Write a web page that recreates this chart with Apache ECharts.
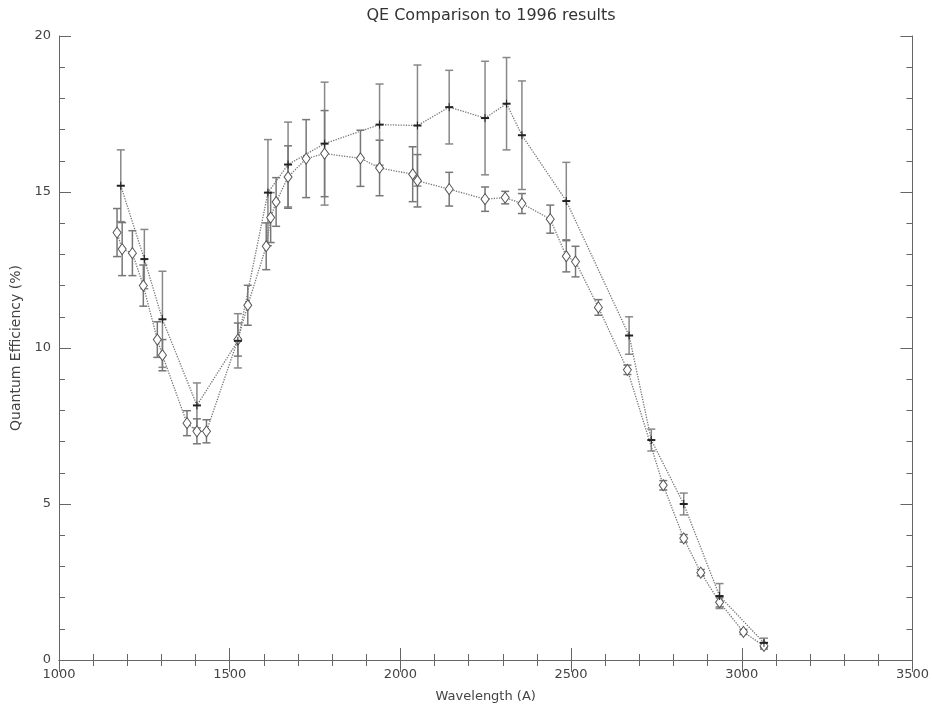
<!DOCTYPE html>
<html><head><meta charset="utf-8">
<script src="https://cdn.jsdelivr.net/npm/echarts@6/dist/echarts.min.js"></script>
<style>html,body{margin:0;padding:0;background:#fff}#c{width:932px;height:708px}</style>
</head><body><div id="c"></div>
<script>
// Diamond series (measured QE)
const diaX   = [1170,1185,1215,1247,1288,1303,1375,1404,1432,1524,1553,1607,1620,1636,1671,1724,1778,1883,1939,2036,2050,2143,2248,2307,2356,2439,2486,2513,2580,2665,2770,2830,2880,2935,3005,3065];
const diaY   = [13.70,13.17,13.04,12.00,10.27,9.77,7.59,7.33,7.33,10.27,11.37,13.26,14.18,14.68,15.48,16.07,16.23,16.08,15.77,15.57,15.36,15.09,14.77,14.82,14.63,14.13,12.94,12.77,11.30,9.30,5.60,3.90,2.80,1.85,0.90,0.45];
const diaErr = [0.77,0.85,0.72,0.66,0.57,0.50,0.40,0.40,0.37,0.53,0.64,0.75,0.80,0.78,1.00,1.25,1.38,0.90,0.89,0.88,0.84,0.54,0.39,0.20,0.32,0.45,0.50,0.49,0.25,0.15,0.15,0.12,0.10,0.15,0.08,0.10];
// Plus series (1996 results)
const plusX   = [1181,1250,1303,1404,1524,1612,1671,1778,1939,2050,2143,2248,2311,2356,2486,2670,2735,2830,2935,3065];
const plusY   = [15.20,12.85,10.92,8.16,10.23,14.98,15.88,16.55,17.16,17.13,17.72,17.37,17.83,16.82,14.71,10.40,7.05,5.00,2.05,0.55];
const plusErr = [1.15,0.95,1.54,0.72,0.87,1.70,1.36,1.97,1.30,1.94,1.18,1.82,1.48,1.74,1.24,0.60,0.35,0.35,0.40,0.15];

const titleText = 'QE Comparison to 1996 results';
const xName = 'Wavelength (A)';
const yName = 'Quantum Efficiency (%)';

function zip3(a,b,c){ return a.map((v,i)=>[v,b[i],c[i]]); }
const diaData = zip3(diaX, diaY, diaErr);
const plusData = zip3(plusX, plusY, plusErr);

function errRender(cap, color, w){
  return function(params, api){
    const x=api.value(0), y=api.value(1), e=api.value(2);
    const t=api.coord([x,y+e]), b=api.coord([x,y-e]);
    const st={stroke:color, lineWidth:w};
    return {type:'group', children:[
      {type:'line', shape:{x1:t[0],y1:t[1],x2:b[0],y2:b[1]}, style:st},
      {type:'line', shape:{x1:t[0]-cap,y1:t[1],x2:t[0]+cap,y2:t[1]}, style:st},
      {type:'line', shape:{x1:b[0]-cap,y1:b[1],x2:b[0]+cap,y2:b[1]}, style:st}
    ]};
  };
}
function plusRender(params, api){
  const p=api.coord([api.value(0), api.value(1)]);
  return {type:'group', children:[
    {type:'line', shape:{x1:p[0]-4,y1:p[1],x2:p[0]+4,y2:p[1]}, style:{stroke:'#222',lineWidth:2}},
    {type:'line', shape:{x1:p[0],y1:p[1]-4,x2:p[0],y2:p[1]+4}, style:{stroke:'#222',lineWidth:1}}
  ]};
}

const font = 'DejaVu Sans';
const lblColor = '#444';
const axisCommonX = {
  type:'value', min:1000, max:3500, interval:500,
  axisLine:{show:true, lineStyle:{color:'#666', width:1}},
  axisTick:{show:true, inside:true, length:12, lineStyle:{color:'#666'}},
  minorTick:{show:true, splitNumber:5, length:6, lineStyle:{color:'#666'}},
  splitLine:{show:false}
};
const axisCommonY = {
  type:'value', min:0, max:20, interval:5,
  axisLine:{show:true, lineStyle:{color:'#666', width:1}},
  axisTick:{show:true, inside:true, length:12, lineStyle:{color:'#666'}},
  minorTick:{show:true, splitNumber:5, length:6, lineStyle:{color:'#666'}},
  splitLine:{show:false}
};

const chart = echarts.init(document.getElementById('c'), null, {renderer:'canvas'});
chart.setOption({
  animation:false,
  backgroundColor:'#fff',
  title:{text:titleText, left:486, textAlign:'center', top:3,
    textStyle:{fontFamily:font, fontSize:16, fontWeight:'normal', color:'#333'}},
  grid:{left:59, right:18, top:36, bottom:45},
  xAxis:[
    Object.assign({}, axisCommonX, {position:'bottom',
      name:xName, nameLocation:'middle', nameGap:30,
      nameTextStyle:{fontFamily:font, fontSize:13, color:lblColor},
      axisLabel:{fontFamily:font, fontSize:13, color:lblColor, margin:8, formatter:v=>String(v)}}),
    Object.assign({}, axisCommonX, {position:'top', axisLabel:{show:false}})
  ],
  yAxis:[
    Object.assign({}, axisCommonY, {position:'left',
      name:yName, nameLocation:'middle', nameGap:36,
      nameTextStyle:{fontFamily:font, fontSize:14, color:lblColor},
      axisLabel:{fontFamily:font, fontSize:13, color:lblColor, margin:8, formatter:v=>String(v)}}),
    Object.assign({}, axisCommonY, {position:'right', axisLabel:{show:false}})
  ],
  series:[
    {type:'custom', name:'errPlus', renderItem:errRender(4,'#888',1.5), data:plusData, encode:{x:0,y:1}, z:2},
    {type:'custom', name:'errDia', renderItem:errRender(4,'#777',1.5), data:diaData, encode:{x:0,y:1}, z:2},
    {type:'line', name:'plusLine', data:plusX.map((v,i)=>[v,plusY[i]]), symbol:'none',
      lineStyle:{type:'dotted', color:'#777', width:1.3}, z:3},
    {type:'line', name:'diaLine', data:diaX.map((v,i)=>[v,diaY[i]]), symbol:'diamond', symbolSize:[8,11], showAllSymbol:true,
      itemStyle:{color:'#fff', borderColor:'#555', borderWidth:1},
      lineStyle:{type:'dotted', color:'#777', width:1.3}, z:4},
    {type:'custom', name:'plusMark', renderItem:plusRender, data:plusData, encode:{x:0,y:1}, z:5}
  ]
});
</script>
</body></html>
